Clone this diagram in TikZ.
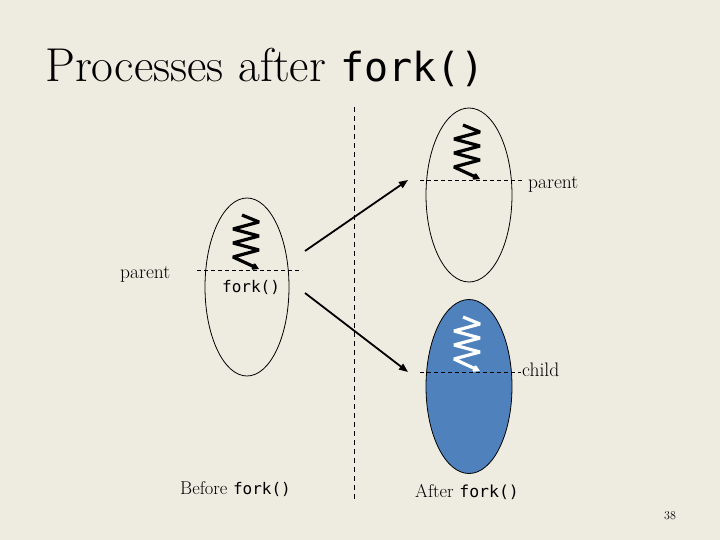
\documentclass[tikz,border=0pt]{standalone}
\usepackage{fontspec}
\setmonofont{DejaVu Sans Mono}
\usetikzlibrary{shapes.geometric,arrows.meta}
\definecolor{bg}{HTML}{EEEBE0}
\definecolor{procblue}{HTML}{4F81BD}
\tikzset{
  proc/.style={ellipse,draw=black,line width=0.8pt,minimum width=84pt,minimum height=176pt,inner sep=0pt},
  dashline/.style={dashed,dash pattern=on 4pt off 3pt,line width=0.7pt},
  vdash/.style={dash pattern=on 5pt off 4pt,line width=0.8pt},
  forkarrow/.style={line width=1.8pt,-{Triangle[length=9pt,width=7pt]}},
  lbl/.style={font=\fontsize{19.5}{21}\selectfont,anchor=base west,inner sep=0pt},
  code/.style={font=\fontsize{16}{18}\selectfont\ttfamily,anchor=base west,inner sep=0pt},
  spring/.pic={
    \draw[line width=3.2pt,line join=miter,miter limit=2,pic actions,
          -{Triangle[length=7pt,width=8pt]}]
      (-17,-55) -- (0,-48) -- (-26,-41) -- (0,-34) -- (-26,-27) -- (0,-20) -- (-26,-13) -- (0,-1);
  }
}
\begin{document}
\begin{tikzpicture}[x=1pt,y=-1pt]
\fill[bg] (0,0) rectangle (720,540);
\useasboundingbox (0,0) rectangle (720,540);

% title
\node[anchor=base west,inner sep=0pt,font=\fontsize{47.5}{50}\selectfont] (title) at (45,82)
  {Processes after {\fontsize{40}{42}\selectfont\ttfamily fork()}};

% divider
\coordinate (dtop) at (354,107);
\coordinate (dbot) at (354,500);
\draw[vdash] (dtop) -- (dbot);

% processes
\node[proc,minimum height=178pt] (left) at (247,287) {};
\node[proc,minimum width=86pt,minimum height=174pt] (par) at (469,195) {};
\node[proc,fill=procblue,minimum width=86pt,minimum height=174pt] (chi) at (469,386.5) {};

% dashed marks
\coordinate (l1) at (197,270); \coordinate (l2) at (302,270);
\draw[dashline] (l1) -- (l2);
\coordinate (p1) at (420,180); \coordinate (p2) at (524,180);
\draw[dashline] (p1) -- (p2);
\coordinate (c1) at (420,372); \coordinate (c2) at (521,372);
\draw[dashline] (c1) -- (c2);

% springs
\pic at (259,270) {spring};
\pic at (480,180) {spring};
\pic[draw=white] at (480,372) {spring};

% arrows
\coordinate (a1s) at (305,251); \coordinate (a1e) at (408,180);
\coordinate (a2s) at (305,293); \coordinate (a2e) at (408,372);
\draw[forkarrow] (a1s) -- (a1e);
\draw[forkarrow] (a2s) -- (a2e);

% labels
\node[lbl] (lparent) at (120,278) {parent};
\node[code] (lfork) at (222,292) {fork()};
\node[lbl] (rparent) at (528,189) {parent};
\node[lbl] (rchild) at (522,376) {child};
\node[lbl,font=\fontsize{18.5}{20}\selectfont] (before) at (180,494) {Before {\fontsize{16}{18}\selectfont\ttfamily fork()}};
\node[lbl,font=\fontsize{18.5}{20}\selectfont] (after) at (415,497) {After {\fontsize{16.5}{18}\selectfont\ttfamily fork()}};
\node[lbl,font=\fontsize{12}{14}\selectfont] (pnum) at (664,519) {38};
\end{tikzpicture}
\end{document}
